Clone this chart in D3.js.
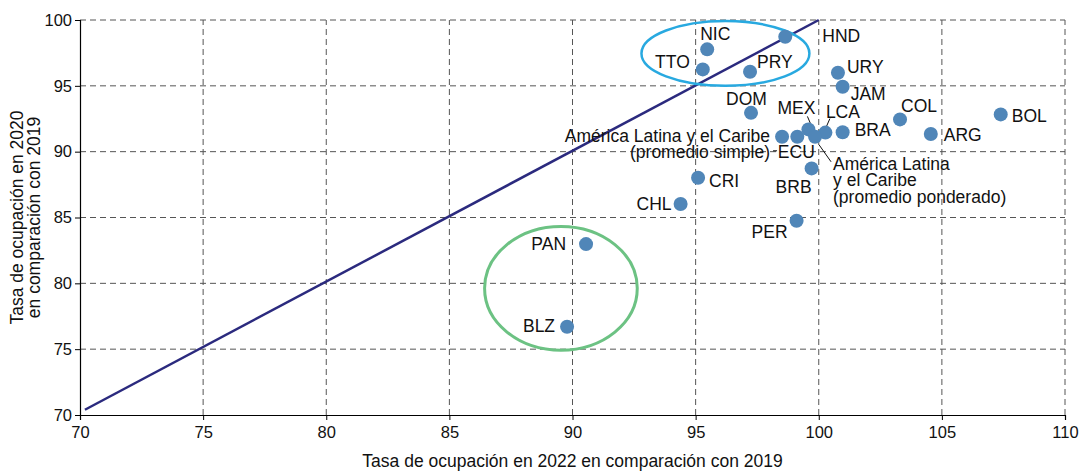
<!DOCTYPE html>
<html><head><meta charset="utf-8">
<script src="https://cdn.jsdelivr.net/npm/d3@7"></script>
<style>
body{margin:0;background:#fff;}
svg{display:block;font-family:"Liberation Sans",Arial,sans-serif;}
</style></head>
<body><div id="chart"></div>
<script>
const codes = ["NIC","HND","TTO","PRY","URY","JAM","DOM","COL","BOL","ARG","BRA","MEX","LCA","ALC_P","ECU","ALC_S","BRB","CRI","CHL","PER","PAN","BLZ"];
const x2022 = [95.47,98.64,95.29,97.21,100.78,100.97,97.25,103.3,107.39,104.55,100.97,99.58,100.27,99.85,99.13,98.51,99.71,95.10,94.39,99.10,90.55,89.78];
const y2020 = [97.77,98.73,96.25,96.07,95.99,94.93,92.95,92.45,92.83,91.34,91.47,91.69,91.45,91.13,91.13,91.13,88.73,88.02,86.02,84.75,82.98,76.7];
const labels = ["NIC","HND","TTO","PRY","URY","JAM","DOM","COL","BOL","ARG","BRA","MEX","LCA",
  "América Latina|y el Caribe|(promedio ponderado)","ECU","América Latina y el Caribe|(promedio simple)","BRB","CRI","CHL","PER","PAN","BLZ"];
const xTicks = [70,75,80,85,90,95,100,105,110];
const yTicks = [70,75,80,85,90,95,100];
const xTitle = "Tasa de ocupación en 2022 en comparación con 2019";
const yTitle = ["Tasa de ocupación en 2020","en comparación con 2019"];

// label placement (offsets in px relative to dot): [dx, dy, anchor]
const place = {
  NIC:[-7,-9,"start"], HND:[37,5,"start"], TTO:[-13,-1,"end"], PRY:[7,-4,"start"],
  URY:[9,0,"start"], JAM:[8,13,"start"], DOM:[-4.5,-8,"middle"], COL:[1,-7,"start"],
  BOL:[11,8,"start"], ARG:[13,7,"start"], BRA:[12,4,"start"], MEX:[-12,-15,"middle"],
  LCA:[17.5,-14.5,"middle"], ALC_P:[18,33,"start"], ECU:[-1,21,"middle"], ALC_S:[-12,5,"end"],
  BRB:[0,25,"end"], CRI:[11,9,"start"], CHL:[-9,6,"end"], PER:[-9,17,"end"],
  PAN:[-20,6,"end"], BLZ:[-12,5,"end"]
};

const W=1079,H=471;
const m={l:80,r:14,t:20,b:56};
const svg=d3.select("#chart").append("svg").attr("width",W).attr("height",H);
const x=d3.scaleLinear().domain([70,110]).range([m.l,W-m.r]);
const y=d3.scaleLinear().domain([70,100]).range([H-m.b,m.t]);

// grid
const g=svg.append("g");
g.selectAll(".vg").data(xTicks.slice(1)).join("line")
 .attr("x1",d=>x(d)).attr("x2",d=>x(d)).attr("y1",y(70)).attr("y2",y(100))
 .attr("stroke","#555").attr("stroke-width",1).attr("stroke-dasharray","6,4");
g.selectAll(".hg").data(yTicks.slice(1)).join("line")
 .attr("x1",x(70)).attr("x2",x(110)).attr("y1",d=>y(d)).attr("y2",d=>y(d))
 .attr("stroke","#555").attr("stroke-width",1).attr("stroke-dasharray","6,4");

// axes
const xa=svg.append("g").attr("transform",`translate(0,${y(70)})`)
 .call(d3.axisBottom(x).tickValues(xTicks).tickSize(5).tickPadding(6));
const ya=svg.append("g").attr("transform",`translate(${x(70)},0)`)
 .call(d3.axisLeft(y).tickValues(yTicks).tickSize(5).tickPadding(3));
[xa,ya].forEach(a=>{
  a.select(".domain").attr("stroke","#000").attr("stroke-width",1.2);
  a.selectAll(".tick line").attr("stroke","#000");
  a.selectAll("text").attr("font-size",16.5).attr("fill","#111").attr("font-family","Liberation Sans, Arial, sans-serif");
});

// diagonal
svg.append("line").attr("x1",x(70.2)).attr("y1",y(70.4)).attr("x2",x(100)).attr("y2",y(100))
 .attr("stroke","#2b2a7e").attr("stroke-width",2.5);

// ellipses
svg.append("ellipse").attr("cx",x(96.21)).attr("cy",y(97.46))
 .attr("rx",x(96.21+3.41)-x(96.21)).attr("ry",y(97.46)-y(97.46+2.46))
 .attr("fill","none").attr("stroke","#28a9e0").attr("stroke-width",2.5);
svg.append("ellipse").attr("cx",x(89.53)).attr("cy",y(79.62))
 .attr("rx",x(89.53+3.1)-x(89.53)).attr("ry",y(79.62)-y(79.62+4.7))
 .attr("fill","none").attr("stroke","#6cc283").attr("stroke-width",3);

const data=codes.map((c,i)=>({c,x:x2022[i],y:y2020[i],label:labels[i]}));

// leader lines
const leaders=[["MEX",-1,-13,2,-6],["LCA",4.5,-14,1,-6],["ALC_P",4,8,16,25],["ALC_S",-9,14,-5,14]];
leaders.forEach(([c,x1,y1,x2,y2])=>{
  const d=data.find(e=>e.c===c);
  svg.append("line").attr("x1",x(d.x)+x1).attr("y1",y(d.y)+y1).attr("x2",x(d.x)+x2).attr("y2",y(d.y)+y2)
   .attr("stroke","#111").attr("stroke-width",1);
});

// dots
svg.selectAll("circle.dot").data(data).join("circle").attr("class","dot")
 .attr("cx",d=>x(d.x)).attr("cy",d=>y(d.y)).attr("r",7).attr("fill","#5086b8");

// labels
data.forEach(d=>{
  const p=place[d.c];
  const t=svg.append("text").attr("x",x(d.x)+p[0]).attr("y",y(d.y)+p[1])
   .attr("text-anchor",p[2]).attr("font-size",17.5).attr("fill","#111");
  d.label.split("|").forEach((s,i)=>{
    t.append("tspan").attr("x",x(d.x)+p[0]).attr("dy",i?16.5:0).text(s);
  });
});

// titles
svg.append("text").attr("x",(x(70)+x(110))/2).attr("y",467).attr("text-anchor","middle")
 .attr("font-size",17.5).attr("fill","#111").text(xTitle);
const yt=svg.append("text").attr("transform",`translate(23,${(y(70)+y(100))/2}) rotate(-90)`)
 .attr("text-anchor","middle").attr("font-size",17.5).attr("fill","#111");
yTitle.forEach((s,i)=>yt.append("tspan").attr("x",0).attr("dy",i?17:0).text(s));
</script></body></html>
